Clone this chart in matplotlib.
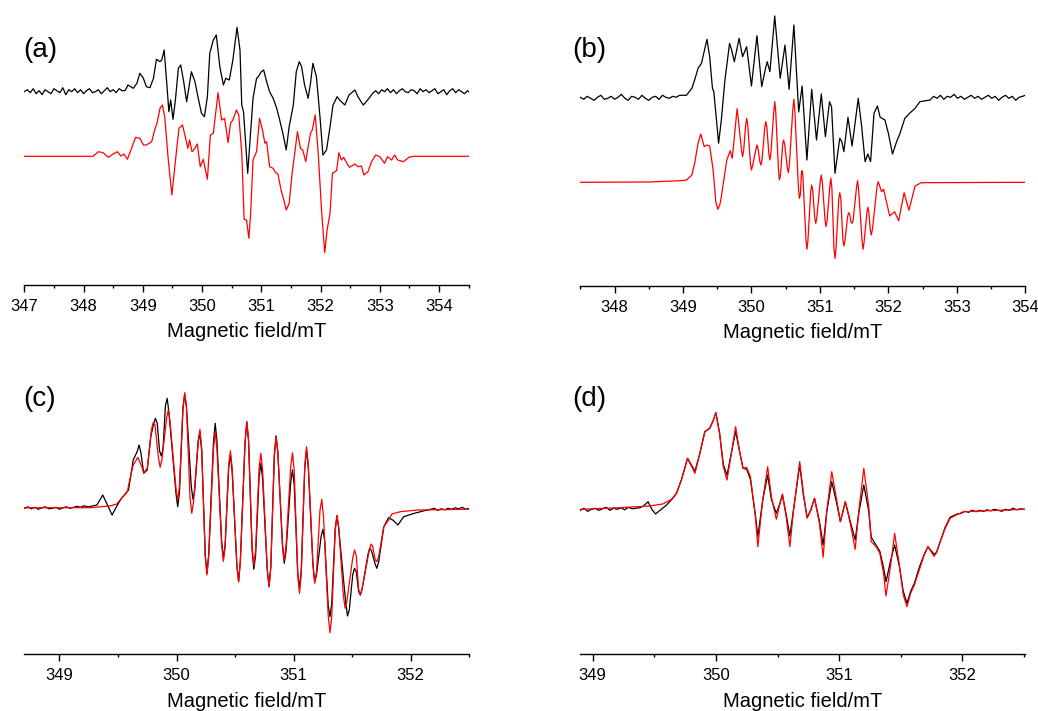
import numpy as np
import matplotlib
matplotlib.use("Agg")
import matplotlib.pyplot as plt
from matplotlib.ticker import MultipleLocator

plt.rcParams['font.family'] = ['Liberation Sans', 'DejaVu Sans']

# ---- data: (field / mT, intensity / arb. units, relative to baseline) ----
# panel (a)
a_exp = [
    (347.00, 0), (347.05, 2), (347.10, -1), (347.15, 3), (347.20, -2), (347.25, 1), (347.30, -3),
    (347.35, 2), (347.40, 0), (347.45, -2), (347.50, 3), (347.55, 1), (347.60, -1), (347.65, 4),
    (347.70, -3), (347.75, 2), (347.80, 0), (347.85, 3), (347.90, -1), (347.95, 2), (348.00, -2),
    (348.05, 1), (348.10, 3), (348.15, -1), (348.20, 0), (348.25, 2), (348.30, -2), (348.35, 1),
    (348.40, 4), (348.45, 0), (348.50, 2), (348.55, -1), (348.60, 3), (348.65, 1),
    (348.70, 1.0), (348.75, 6.7), (348.84, 3.4), (348.90, 8.4), (348.95, 18.4), (349.01, 13.4),
    (349.06, 5.0), (349.12, 4.0), (349.18, 13.4), (349.23, 32.4), (349.29, 30.0), (349.32, 31.7),
    (349.36, 41.7), (349.40, 11.7), (349.44, -20.0), (349.47, -8.3), (349.51, -27.6), (349.55, -8.3),
    (349.60, 23.4), (349.64, 26.7), (349.69, 10.0), (349.74, -10.0), (349.78, 5.0), (349.82, 20.0),
    (349.88, 10.0), (349.93, -5.0), (349.99, -21.6), (350.04, -25.0), (350.09, -5.0), (350.13, 38.4),
    (350.19, 51.7), (350.24, 56.7), (350.30, 25.0), (350.36, 6.7), (350.40, 13.4), (350.46, 11.7),
    (350.52, 31.7), (350.59, 64.4), (350.64, 41.7), (350.67, -13.3), (350.70, -20.3), (350.77, -81.6),
    (350.86, -6.6), (350.92, 13.4), (350.95, 15.0), (351.00, 20.0), (351.04, 21.7), (351.09, 10.0),
    (351.14, 0), (351.20, -6.6), (351.26, -16.6), (351.31, -28.3), (351.37, -43.3), (351.42, -58.3),
    (351.47, -35.0), (351.54, -13.3), (351.59, 20.0), (351.64, 30.0), (351.68, 25.0), (351.73, 6.7),
    (351.79, -6.6), (351.83, 8.4), (351.87, 28.4), (351.93, 15.0), (351.99, -25.0), (352.04, -63.3),
    (352.10, -58.3), (352.16, -35.0), (352.21, -13.3), (352.28, -5.0), (352.32, -8.3), (352.41, -13.3),
    (352.48, -3.3), (352.58, 1.7), (352.63, -5.0), (352.72, -13.3), (352.77, -10.0), (352.83, -5.6),
    (352.88, -1.6),
    (352.93, 1), (352.98, -2), (353.03, 2), (353.08, 0), (353.13, 3), (353.18, -1), (353.23, 2),
    (353.28, -2), (353.33, 1), (353.38, 3), (353.43, 0), (353.48, -1), (353.53, 2), (353.58, 1),
    (353.63, -2), (353.68, 3), (353.73, 0), (353.78, 2), (353.83, -1), (353.88, 1), (353.93, 3),
    (353.98, -2), (354.03, 0), (354.08, 2), (354.13, -3), (354.18, 1), (354.23, 3), (354.28, -1),
    (354.33, 2), (354.38, 0), (354.43, -2), (354.48, 1), (354.50, 0),
]
a_sim = [
    (347.00, 0), (348.16, 0), (348.25, 4.6), (348.33, 3.6), (348.42, -1.0), (348.50, 2.3), (348.57, 4.6),
    (348.63, 0.3), (348.68, 2.3), (348.74, -3.0), (348.81, 8.0), (348.88, 19.0), (348.95, 18.0),
    (349.01, 11.3), (349.06, 11.3), (349.15, 14.6), (349.20, 26.3), (349.24, 33.0), (349.29, 48.0),
    (349.33, 51.3), (349.37, 39.6), (349.43, -3.7), (349.49, -38.7), (349.54, -10.4), (349.61, 28.0),
    (349.67, 31.3), (349.71, 21.3), (349.76, 8.0), (349.79, 16.3), (349.83, 4.6), (349.88, 8.0),
    (349.92, 12.3), (349.97, -10.4), (350.02, -3.0), (350.09, -23.0), (350.14, 21.3), (350.19, 23.0),
    (350.27, 63.6), (350.33, 36.3), (350.38, 38.0), (350.44, 13.6), (350.48, 33.0), (350.52, 36.3),
    (350.58, 46.3), (350.62, 41.3), (350.67, 3.0), (350.71, -63.0), (350.75, -63.7), (350.79, -82.0),
    (350.82, -57.0), (350.86, -3.7), (350.92, 4.6), (350.97, 38.0), (351.02, 26.3), (351.06, 13.0),
    (351.09, 14.6), (351.14, -10.4), (351.20, -12.0), (351.24, -16.4), (351.28, -17.7), (351.34, -35.4),
    (351.38, -43.7), (351.42, -53.7), (351.47, -47.0), (351.52, -17.0), (351.56, 1.3), (351.61, 24.6),
    (351.66, 8.0), (351.70, 6.3), (351.75, -5.4), (351.79, 9.6), (351.83, 23.0), (351.86, 26.3),
    (351.91, 41.3), (351.96, 3.0), (352.02, -57.0), (352.07, -96.4), (352.11, -73.7), (352.16, -57.0),
    (352.20, -17.0), (352.27, -14.4), (352.31, 3.6), (352.35, -3.7), (352.39, -1.0), (352.45, -7.7),
    (352.49, -11.0), (352.58, -7.7), (352.63, -10.4), (352.69, -9.7), (352.73, -18.7), (352.80, -15.4),
    (352.86, -5.4), (352.93, 1.3), (353.00, -0.4), (353.08, -7.0), (353.13, -0.4), (353.20, -3.7),
    (353.25, 1.3), (353.30, -3.7), (353.40, -5.4), (353.49, -1.0), (353.56, 0), (354.50, 0),
]

# panel (b)
b_exp = [
    (347.50, 1), (347.55, -1), (347.60, 2), (347.65, 0), (347.70, -2), (347.75, 1), (347.80, 3),
    (347.85, -1), (347.90, 0), (347.95, 2), (348.00, -1), (348.05, 1), (348.10, 4), (348.15, 0),
    (348.20, -2), (348.25, 2), (348.30, 1), (348.35, -1), (348.40, 3), (348.45, 0), (348.50, -2),
    (348.55, 1), (348.60, 2), (348.65, -1), (348.70, 3), (348.75, 1), (348.80, 0), (348.85, 2),
    (348.90, 1), (348.95, 3),
    (349.05, 3), (349.13, 10), (349.17, 18.3), (349.22, 30), (349.27, 35), (349.32, 50), (349.35, 59),
    (349.39, 41.6), (349.43, 10), (349.45, 6.6), (349.48, -15), (349.52, -45), (349.56, -21.7),
    (349.61, 16.6), (349.68, 55), (349.71, 48.3), (349.75, 36.6), (349.82, 60), (349.87, 41.6),
    (349.93, 51.6), (350.00, 12.3), (350.08, 62.6), (350.15, 11.6), (350.20, 28.3), (350.23, 36.6),
    (350.27, 26.6), (350.34, 82.3), (350.42, 20), (350.49, 53.3), (350.55, 9), (350.62, 73.3),
    (350.69, -13.7), (350.74, 12.3), (350.81, -61.7), (350.88, 9), (350.95, -41.7), (351.02, 4.3),
    (351.08, -38.4), (351.14, -3.4), (351.17, -8.4), (351.22, -75), (351.29, -40), (351.32, -43.4),
    (351.35, -53.4), (351.41, -19), (351.47, -47.7), (351.56, 0), (351.61, -28.4), (351.66, -63.4),
    (351.70, -55.7), (351.74, -63.4), (351.79, -15), (351.84, -7.7), (351.88, -19), (351.95, -21.7),
    (352.00, -35), (352.06, -55.7), (352.12, -43.4), (352.17, -35), (352.24, -20), (352.31, -15),
    (352.39, -10), (352.46, -3.4), (352.61, -1.7),
    (352.66, 2), (352.71, 0), (352.76, 3), (352.81, -1), (352.86, 2), (352.91, 1), (352.96, 4),
    (353.01, 0), (353.06, 2), (353.11, -1), (353.16, 1), (353.21, 3), (353.26, 0), (353.31, 2),
    (353.36, -1), (353.41, 1), (353.46, 3), (353.51, 0), (353.56, 2), (353.61, -2), (353.66, 1),
    (353.71, 3), (353.76, 0), (353.81, 2), (353.86, -2), (353.91, 1), (353.96, 2), (354.00, 3),
]
b_sim = [
    (347.50, 0), (348.50, 0.3), (348.96, 1.6), (349.05, 2.3), (349.13, 7.3), (349.17, 19), (349.22, 39),
    (349.26, 48.3), (349.31, 35.6), (349.35, 37.3), (349.39, 36.3), (349.44, 12.3), (349.48, -20),
    (349.51, -27), (349.54, -22), (349.56, -14.4), (349.64, 22.3), (349.69, 31.6), (349.72, 24),
    (349.775, 63), (349.79, 73.6), (349.805, 65), (349.855, 32), (349.87, 25.6), (349.885, 31),
    (349.915, 57), (349.93, 64), (349.945, 58), (349.985, 19), (350.00, 12.3), (350.015, 16),
    (350.065, 33), (350.08, 37.3), (350.095, 34), (350.125, 20), (350.14, 17.3), (350.155, 23),
    (350.195, 55), (350.21, 60.6), (350.225, 55), (350.255, 28), (350.27, 22.3), (350.285, 30),
    (350.325, 70), (350.34, 80.6), (350.355, 70), (350.395, 12), (350.41, 2.3), (350.425, 8),
    (350.455, 37), (350.47, 42.3), (350.485, 38), (350.525, 14), (350.54, 9.6), (350.555, 19),
    (350.605, 74), (350.62, 83), (350.635, 70), (350.685, -4), (350.70, -16), (350.715, -12),
    (350.73, 9), (350.74, 11.6), (350.75, 8), (350.795, -56), (350.81, -67), (350.825, -58),
    (350.865, -10), (350.88, -2.7), (350.895, -8), (350.925, -36), (350.94, -41), (350.955, -35),
    (351.005, 1), (351.02, 7.3), (351.035, 0), (351.075, -38), (351.09, -44.4), (351.105, -38),
    (351.145, -4), (351.16, 4), (351.175, -6), (351.205, -66), (351.22, -76), (351.235, -66),
    (351.275, -17), (351.29, -10.4), (351.305, -16), (351.335, -57), (351.35, -63.7), (351.365, -59),
    (351.405, -34), (351.42, -30.4), (351.435, -32), (351.455, -40), (351.47, -41), (351.485, -38),
    (351.535, -5), (351.55, 1.6), (351.565, -7), (351.615, -58), (351.63, -67), (351.645, -60),
    (351.685, -31), (351.70, -25), (351.715, -30), (351.735, -47), (351.75, -52.7), (351.765, -48),
    (351.835, -4), (351.85, 0.6), (351.865, -2), (351.90, -9.4), (351.93, -7), (352.02, -33.7),
    (352.09, -29.4), (352.15, -38.4), (352.23, -10.4), (352.30, -28), (352.39, -3.7), (352.48, -0.4),
    (354.00, 0),
]

# panel (c)
c_exp = [
    (348.70, 0), (348.73, 1.5), (348.76, -0.5), (348.79, 1), (348.82, -1), (348.85, 0.5), (348.88, 1.5),
    (348.91, -0.5), (348.94, 0), (348.97, 1), (349.00, -1), (349.03, 0.5), (349.06, 1.5), (349.09, 0),
    (349.12, 1), (349.15, 2), (349.18, 1), (349.21, 2.5), (349.24, 1.5), (349.27, 2),
    (349.32, 3.3), (349.37, 13.3), (349.41, 3.3), (349.45, -6.7), (349.49, 2.3), (349.53, 10),
    (349.59, 18.3), (349.63, 48.3), (349.665, 57), (349.68, 63.3), (349.695, 56), (349.72, 35),
    (349.75, 38.3), (349.78, 71.6), (349.805, 85), (349.82, 90), (349.835, 85), (349.855, 57.3),
    (349.87, 52.3), (349.885, 60), (349.905, 102.5), (349.92, 110), (349.935, 96), (349.995, 15),
    (350.01, 1.6), (350.025, 16), (350.055, 100), (350.07, 114.3), (350.085, 101), (350.125, 23),
    (350.14, 9), (350.155, 17.6), (350.185, 66.4), (350.20, 75), (350.215, 57), (350.245, -47),
    (350.26, -65), (350.275, -45.5), (350.315, 65.5), (350.33, 85), (350.345, 67.5), (350.385, -32.5),
    (350.40, -50), (350.415, -36.6), (350.445, 39.9), (350.46, 53.3), (350.475, 36.8), (350.515, -56.9),
    (350.53, -73.4), (350.545, -52.6), (350.585, 65.8), (350.60, 86.6), (350.615, 67.4), (350.645, -41.8),
    (350.66, -61), (350.675, -47.2), (350.705, 31.2), (350.72, 45), (350.735, 29), (350.775, -62.4),
    (350.79, -78.4), (350.805, -58.8), (350.835, 52.7), (350.85, 72.3), (350.865, 55.8), (350.905, -38.5),
    (350.92, -55), (350.935, -42.9), (350.975, 26.2), (350.99, 38.3), (351.005, 23), (351.035, -64.7),
    (351.05, -80), (351.065, -62), (351.095, 40.4), (351.11, 58.3), (351.125, 41.2), (351.165, -56.3),
    (351.18, -73.4), (351.195, -66.6), (351.235, -27.8), (351.25, -21), (351.265, -32.3),
    (351.295, -97.1), (351.31, -108.4), (351.325, -95.3), (351.355, -20.5), (351.37, -7.4),
    (351.385, -20.4), (351.445, -94.7), (351.46, -107.7), (351.475, -101.5), (351.505, -66.2),
    (351.52, -60), (351.535, -63.5), (351.555, -83.2), (351.57, -86.7), (351.585, -80.6),
    (351.635, -46), (351.65, -40), (351.665, -42.6), (351.695, -55.3), (351.71, -60), (351.725, -54.4),
    (351.77, -18.4), (351.81, -9.4), (351.85, -12), (351.89, -16.7), (351.94, -8.4), (352.03, -5),
    (352.14, -1.7),
    (352.17, -1), (352.20, 0), (352.23, -2), (352.26, -0.5), (352.29, -1.5), (352.32, 0), (352.35, -1),
    (352.38, 0.5), (352.41, -0.5), (352.44, 1), (352.47, -1), (352.50, 0),
]
c_sim = [
    (348.70, 0.5), (349.26, 0.6), (349.43, 2.3), (349.49, 4.3), (349.53, 10), (349.58, 16.6),
    (349.60, 28.3), (349.63, 43.3), (349.67, 51), (349.70, 42.3), (349.72, 35.6), (349.75, 40),
    (349.785, 78), (349.80, 85.6), (349.815, 84), (349.845, 51), (349.86, 41), (349.875, 48.5),
    (349.915, 90), (349.93, 98.3), (349.945, 86), (349.995, 20), (350.01, 8), (350.025, 22),
    (350.055, 101), (350.07, 115.6), (350.085, 100.5), (350.115, 10.7), (350.13, -5), (350.145, 6),
    (350.185, 68), (350.20, 79), (350.215, 60), (350.245, -47.6), (350.26, -66.7), (350.275, -48.1),
    (350.315, 58), (350.33, 76.6), (350.345, 59.3), (350.385, -36.1), (350.40, -53), (350.415, -38.6),
    (350.445, 43.2), (350.46, 57.6), (350.475, 40.6), (350.515, -56.4), (350.53, -73.4), (350.545, -52.6),
    (350.585, 65.8), (350.60, 86.6), (350.615, 68), (350.645, -38.1), (350.66, -56.7), (350.675, -42.1),
    (350.705, 40.4), (350.72, 55), (350.735, 37.7), (350.775, -61.1), (350.79, -78.4), (350.805, -58.8),
    (350.835, 52.7), (350.85, 72.3), (350.865, 56.2), (350.905, -35.6), (350.92, -51.7), (350.935, -37.8),
    (350.975, 41.7), (350.99, 55.6), (351.005, 37.3), (351.035, -66.7), (351.05, -85), (351.065, -65.9),
    (351.095, 42.5), (351.11, 61.6), (351.125, 43.8), (351.165, -57.2), (351.18, -75), (351.195, -64),
    (351.225, -2), (351.24, 9), (351.255, -8.3), (351.295, -107.1), (351.31, -124.4), (351.325, -109.2),
    (351.355, -22.2), (351.37, -7), (351.385, -19.1), (351.425, -87.9), (351.44, -100), (351.455, -92.4),
    (351.505, -49.3), (351.52, -41.7), (351.535, -47.6), (351.555, -80.8), (351.57, -86.7),
    (351.585, -80), (351.645, -42.3), (351.66, -35.7), (351.675, -38), (351.695, -51), (351.71, -53.4),
    (351.725, -49), (351.77, -18.4), (351.81, -11.7), (351.84, -5.7), (351.91, -3.4), (352.06, -1.7),
    (352.50, -1),
]

# panel (d)
d_exp = [
    (348.90, -1), (348.93, 1), (348.96, -2), (348.99, 0), (349.02, 1), (349.05, -1), (349.08, 0.5),
    (349.11, 2), (349.14, -1), (349.17, 1), (349.20, 0), (349.23, 1.5), (349.26, -0.5), (349.29, 2),
    (349.32, 0.5), (349.35, 1), (349.38, 1.5), (349.41, 3),
    (349.45, 7.6), (349.48, 0), (349.51, -4.7), (349.55, -0.7), (349.60, 4.3), (349.65, 11),
    (349.68, 16), (349.72, 29.3), (349.77, 51), (349.83, 38), (349.87, 56), (349.91, 77.6),
    (349.95, 81), (349.98, 89.3), (350.00, 96.6), (350.03, 76), (350.06, 45), (350.09, 34),
    (350.13, 59.3), (350.16, 78), (350.19, 59.3), (350.22, 41), (350.25, 40), (350.28, 30),
    (350.32, -5), (350.34, -27.4), (350.38, 9.3), (350.42, 34.3), (350.45, 10), (350.49, -4),
    (350.52, 6), (350.54, 14.3), (350.57, -5), (350.60, -26.7), (350.63, 0), (350.68, 44.3),
    (350.71, 14), (350.74, -8), (350.77, -0.7), (350.80, 11), (350.84, -12), (350.87, -35.7),
    (350.90, -2), (350.94, 27.6), (350.98, 6), (351.01, -12.4), (351.05, 7.6), (351.09, -12),
    (351.13, -30.7), (351.16, -3), (351.20, 24.3), (351.24, -2), (351.26, -28), (351.30, -36),
    (351.33, -42), (351.36, -58), (351.38, -72.4), (351.42, -50), (351.45, -35.7), (351.49, -58),
    (351.52, -82), (351.55, -94), (351.58, -82), (351.61, -74), (351.65, -58), (351.69, -45),
    (351.72, -37.4), (351.77, -45), (351.79, -43), (351.82, -32), (351.86, -18), (351.90, -8),
    (351.95, -5),
    (351.99, -4), (352.02, -2), (352.05, -3), (352.08, -1), (352.11, -2.5), (352.14, -1), (352.17, -2),
    (352.20, -0.5), (352.23, -1.5), (352.26, 0), (352.29, -1), (352.32, -2), (352.35, 0), (352.38, -1),
    (352.41, 1), (352.44, -0.5), (352.47, 0.5), (352.50, 0),
]
d_sim = [
    (348.90, 0), (349.20, 1.5), (349.46, 3.3), (349.57, 5.3), (349.64, 10), (349.68, 16), (349.72, 29.3),
    (349.77, 51), (349.83, 36), (349.87, 56), (349.91, 77.6), (349.95, 81), (349.98, 89.3),
    (350.00, 96.6), (350.03, 76), (350.06, 42.6), (350.09, 29.3), (350.13, 59.3), (350.16, 82.6),
    (350.19, 59.3), (350.22, 41), (350.25, 42), (350.28, 32.6), (350.32, -7.4), (350.34, -37.4),
    (350.38, 9.3), (350.42, 42.6), (350.45, 12.6), (350.49, -10), (350.52, 6), (350.54, 15.3),
    (350.57, -7.4), (350.60, -37.4), (350.63, -0.7), (350.68, 47.6), (350.71, 16), (350.74, -9),
    (350.77, -0.7), (350.80, 11), (350.84, -14), (350.87, -48), (350.90, -0.7), (350.94, 37.6),
    (350.98, 9.3), (351.01, -12.4), (351.05, 7.6), (351.09, -14), (351.13, -40), (351.16, -0.7),
    (351.20, 41), (351.24, 2.6), (351.26, -32.4), (351.30, -37.4), (351.33, -44), (351.36, -64),
    (351.38, -86.7), (351.42, -54), (351.45, -24), (351.49, -57.4), (351.52, -85.7), (351.55, -97.4),
    (351.58, -84), (351.61, -75.7), (351.65, -60.7), (351.69, -45.7), (351.72, -37.4), (351.77, -47),
    (351.79, -43.4), (351.82, -32.4), (351.86, -19), (351.90, -9), (351.95, -5.7), (352.01, -2.4),
    (352.50, 0),
]

labels = ['(a)', '(b)', '(c)', '(d)']
xlims = [(347.0, 354.5), (347.5, 354.0), (348.70, 352.50), (348.90, 352.51)]

# ---- layout (pixels of a 1038x711 figure) ----
W, H = 1038, 711
fig = plt.figure(figsize=(W / 100, H / 100), dpi=100)

panels = [
    # left, spine_y, width, exp offset, sim offset, label xy
    (24.3, 285.0, 444.4, 193.3, 128.7, (23, 50)),
    (580.3, 285.7, 445.0, 187.4, 103.4, (572, 50)),
    (24.3, 654.3, 445.0, 146.0, 146.0, (23, 399)),
    (580.3, 654.3, 445.0, 145.0, 145.0, (572, 399)),
]
data = [(a_exp, a_sim), (b_exp, b_sim), (c_exp, c_sim), (d_exp, d_sim)]

for i, (left, spy, wid, off_e, off_s, lab) in enumerate(panels):
    ax = fig.add_axes([left / W, (H - spy) / H, wid / W, 275 / H])
    exp = np.array(data[i][0]).T
    sim = np.array(data[i][1]).T
    ax.plot(exp[0], exp[1] + off_e, color='black', lw=0.9)
    ax.plot(sim[0], sim[1] + off_s, color='red', lw=0.9)
    ax.set_xlim(*xlims[i])
    ax.set_ylim(0, 275)
    for s in ['left', 'right', 'top']:
        ax.spines[s].set_visible(False)
    ax.spines['bottom'].set_linewidth(1.0)
    ax.set_yticks([])
    ax.xaxis.set_major_locator(MultipleLocator(1))
    ax.xaxis.set_minor_locator(MultipleLocator(0.5))
    ax.tick_params(axis='x', which='major', direction='out', length=5, width=1,
                   labelsize=12, pad=5)
    ax.tick_params(axis='x', which='minor', direction='out', length=2.5, width=1)
    ax.set_xlabel('Magnetic field/mT', fontsize=14.5, labelpad=6)
    fig.text(lab[0] / W, 1 - lab[1] / H, labels[i], fontsize=20,
             ha='left', va='center')

fig.savefig('out.png', dpi=100)
